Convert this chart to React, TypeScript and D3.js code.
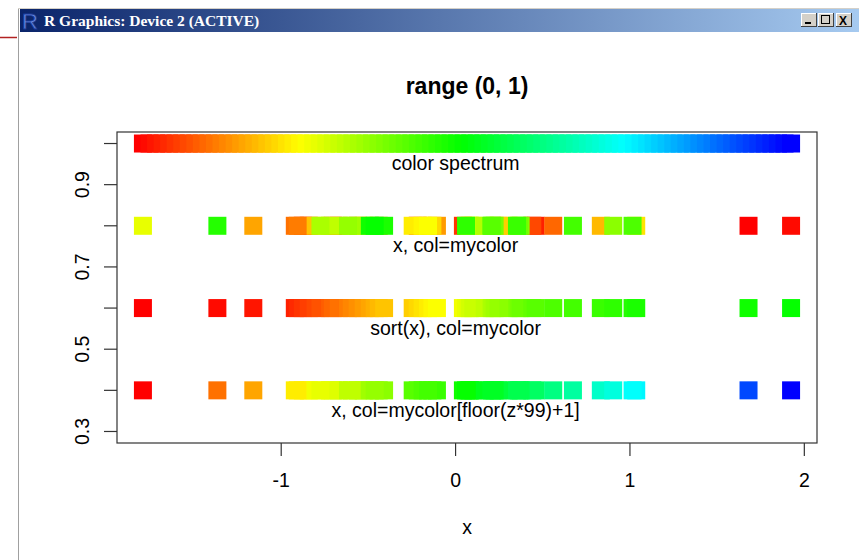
import React from "react";
import * as d3 from "d3";

// original-order x values
const xValues = [
  1.68, 1.924, -0.217, 0.459, -0.876, 0.042, -0.704, 0.44, -0.842, -0.561,
  0.56, -0.922, -0.905, -0.441, -0.67, -0.107, -1.16, 0.247, 0.833, -0.803,
  0.304, -0.133, 1.036, -0.246, -0.189, -0.158, -0.527, -1.793, 0.075, 0.102,
  0.083, -0.72, 0.167, -0.775, -0.595, -0.617, 0.904, 0.373, 0.224, 0.362,
  0.21, 0.205, 1.015, 0.673, 0.352, 0.06, -1.366, -0.41, -0.492, -0.464,
];
const nColors = 100;
const hueEnd = 2 / 3;
const rowYs = [1.0, 0.8, 0.6, 0.4];
const rowLabels = [
  "color spectrum",
  "x, col=mycolor",
  "sort(x), col=mycolor",
  "x, col=mycolor[floor(z*99)+1]",
];
const labelYs = [0.95, 0.75, 0.55, 0.35];
const xTicks = [-1, 0, 1, 2];
const yTicks = [0.3, 0.4, 0.5, 0.6, 0.7, 0.8, 0.9, 1.0];
const yTickLabels = ["0.3", "0.5", "0.7", "0.9"];
const yLabelValues = [0.3, 0.5, 0.7, 0.9];
const yLimits = [0.3, 1.0];
const titleText = "range (0, 1)";
const xLabel = "x";
const windowTitle = "R Graphics: Device 2 (ACTIVE)";

const W = 859;
const H = 560;
const box = { left: 117, right: 817, top: 132, bottom: 443 };
const SQ = 18;
const FONT = "'Liberation Sans', Arial, sans-serif";
const FS = 19.5;

export default function App() {
  const mycolor = d3
    .range(nColors)
    .map((i) => d3.hsl(((i / (nColors - 1)) * hueEnd) * 360, 1, 0.5).formatHex());
  const xmin = d3.min(xValues)!;
  const xmax = d3.max(xValues)!;
  const dx = xmax - xmin;
  const x = d3
    .scaleLinear()
    .domain([xmin - 0.04 * dx, xmax + 0.04 * dx])
    .range([box.left, box.right]);
  const dy = yLimits[1] - yLimits[0];
  const y = d3
    .scaleLinear()
    .domain([yLimits[0] - 0.04 * dy, yLimits[1] + 0.04 * dy])
    .range([box.bottom, box.top]);

  const spectrumX = d3.range(nColors).map((i) => xmin + (i * dx) / (nColors - 1));
  const sorted = [...xValues].sort((a, b) => a - b);
  const z = xValues.map((v) => (v - xmin) / dx);

  const rows: { xs: number[]; cols: string[] }[] = [
    { xs: spectrumX, cols: mycolor },
    { xs: xValues, cols: xValues.map((_, i) => mycolor[i % nColors]) },
    { xs: sorted, cols: sorted.map((_, i) => mycolor[i % nColors]) },
    { xs: xValues, cols: z.map((v) => mycolor[Math.floor(v * 99)]) },
  ];

  const cx = (box.left + box.right) / 2;

  return (
    <svg
      width={W}
      height={H}
      style={{ position: "absolute", left: 0, top: 0, background: "#fff" }}
      fontFamily={FONT}
    >
      <defs>
        <linearGradient id="tb" x1="0" x2="1" y1="0" y2="0">
          <stop offset="0" stopColor="#0a246a" />
          <stop offset="1" stopColor="#a6caf0" />
        </linearGradient>
      </defs>
      <rect x={0} y={0} width={W} height={H} fill="#fff" />
      {/* window chrome */}
      <line x1={0} x2={17} y1={37.5} y2={37.5} stroke="#b22222" strokeWidth={1.5} />
      <line x1={18.5} x2={18.5} y1={8} y2={H} stroke="#a0a0a0" strokeWidth={1} />
      <line x1={18} x2={W} y1={8.5} y2={8.5} stroke="#d4d0c8" strokeWidth={1} />
      <rect x={20} y={9} width={W - 20} height={23} fill="url(#tb)" />
      <text
        x={22}
        y={29}
        fontFamily="'Liberation Sans', Arial, sans-serif"
        fontSize={22}
        fill="#6d8fe0"
        stroke="#1a3a9a"
        strokeWidth={0.8}
      >
        R
      </text>
      <text
        x={44}
        y={26}
        fontFamily="'Liberation Serif', 'Times New Roman', serif"
        fontWeight="bold"
        fontSize={15.5}
        fill="#fff"
      >
        {windowTitle}
      </text>
      {[801, 818, 836].map((bx, i) => (
        <g key={i}>
          <rect x={bx} y={13} width={16} height={14} fill="#d4d0c8" />
          <line x1={bx} x2={bx + 16} y1={13.5} y2={13.5} stroke="#fff" />
          <line x1={bx + 0.5} x2={bx + 0.5} y1={13} y2={27} stroke="#fff" />
          <line x1={bx} x2={bx + 16} y1={26.5} y2={26.5} stroke="#404040" />
          <line x1={bx + 15.5} x2={bx + 15.5} y1={13} y2={27} stroke="#404040" />
          {i === 0 && <rect x={bx + 4} y={22} width={6} height={2} fill="#000" />}
          {i === 1 && (
            <rect x={bx + 3.5} y={15.5} width={8} height={8} fill="none" stroke="#000" />
          )}
          {i === 2 && (
            <text x={bx + 3} y={25} fontSize={12} fontWeight="bold" fill="#000">
              X
            </text>
          )}
        </g>
      ))}

      {/* title */}
      <text
        x={cx}
        y={94}
        textAnchor="middle"
        fontWeight="bold"
        fontSize={23}
        fill="#000"
      >
        {titleText}
      </text>

      {/* points */}
      {rows.map((r, ri) =>
        r.xs.map((v, i) => (
          <rect
            key={`${ri}-${i}`}
            x={x(v) - SQ / 2}
            y={y(rowYs[ri]) - SQ / 2}
            width={SQ}
            height={SQ}
            fill={r.cols[i]}
          />
        ))
      )}

      {/* labels */}
      {rowLabels.map((t, i) => (
        <text
          key={t}
          x={x(0)}
          y={y(labelYs[i]) + 6}
          textAnchor="middle"
          fontSize={FS}
          fill="#000"
        >
          {t}
        </text>
      ))}

      {/* box */}
      <rect
        x={box.left}
        y={box.top}
        width={box.right - box.left}
        height={box.bottom - box.top}
        fill="none"
        stroke="#333"
        strokeWidth={1.2}
      />

      {/* x axis */}
      {xTicks.map((t) => (
        <g key={t}>
          <line x1={x(t)} x2={x(t)} y1={box.bottom} y2={box.bottom + 13} stroke="#333" strokeWidth={1.2} />
          <text x={x(t)} y={487} textAnchor="middle" fontSize={FS} fill="#000">
            {t}
          </text>
        </g>
      ))}
      <text x={cx} y={534} textAnchor="middle" fontSize={FS} fill="#000">
        {xLabel}
      </text>

      {/* y axis */}
      {yTicks.map((t) => (
        <line key={t} x1={box.left - 13} x2={box.left} y1={y(t)} y2={y(t)} stroke="#333" strokeWidth={1.2} />
      ))}
      {yLabelValues.map((t, i) => (
        <text
          key={t}
          transform={`translate(${89},${y(t)}) rotate(-90)`}
          textAnchor="middle"
          fontSize={FS}
          fill="#000"
        >
          {yTickLabels[i]}
        </text>
      ))}
    </svg>
  );
}
